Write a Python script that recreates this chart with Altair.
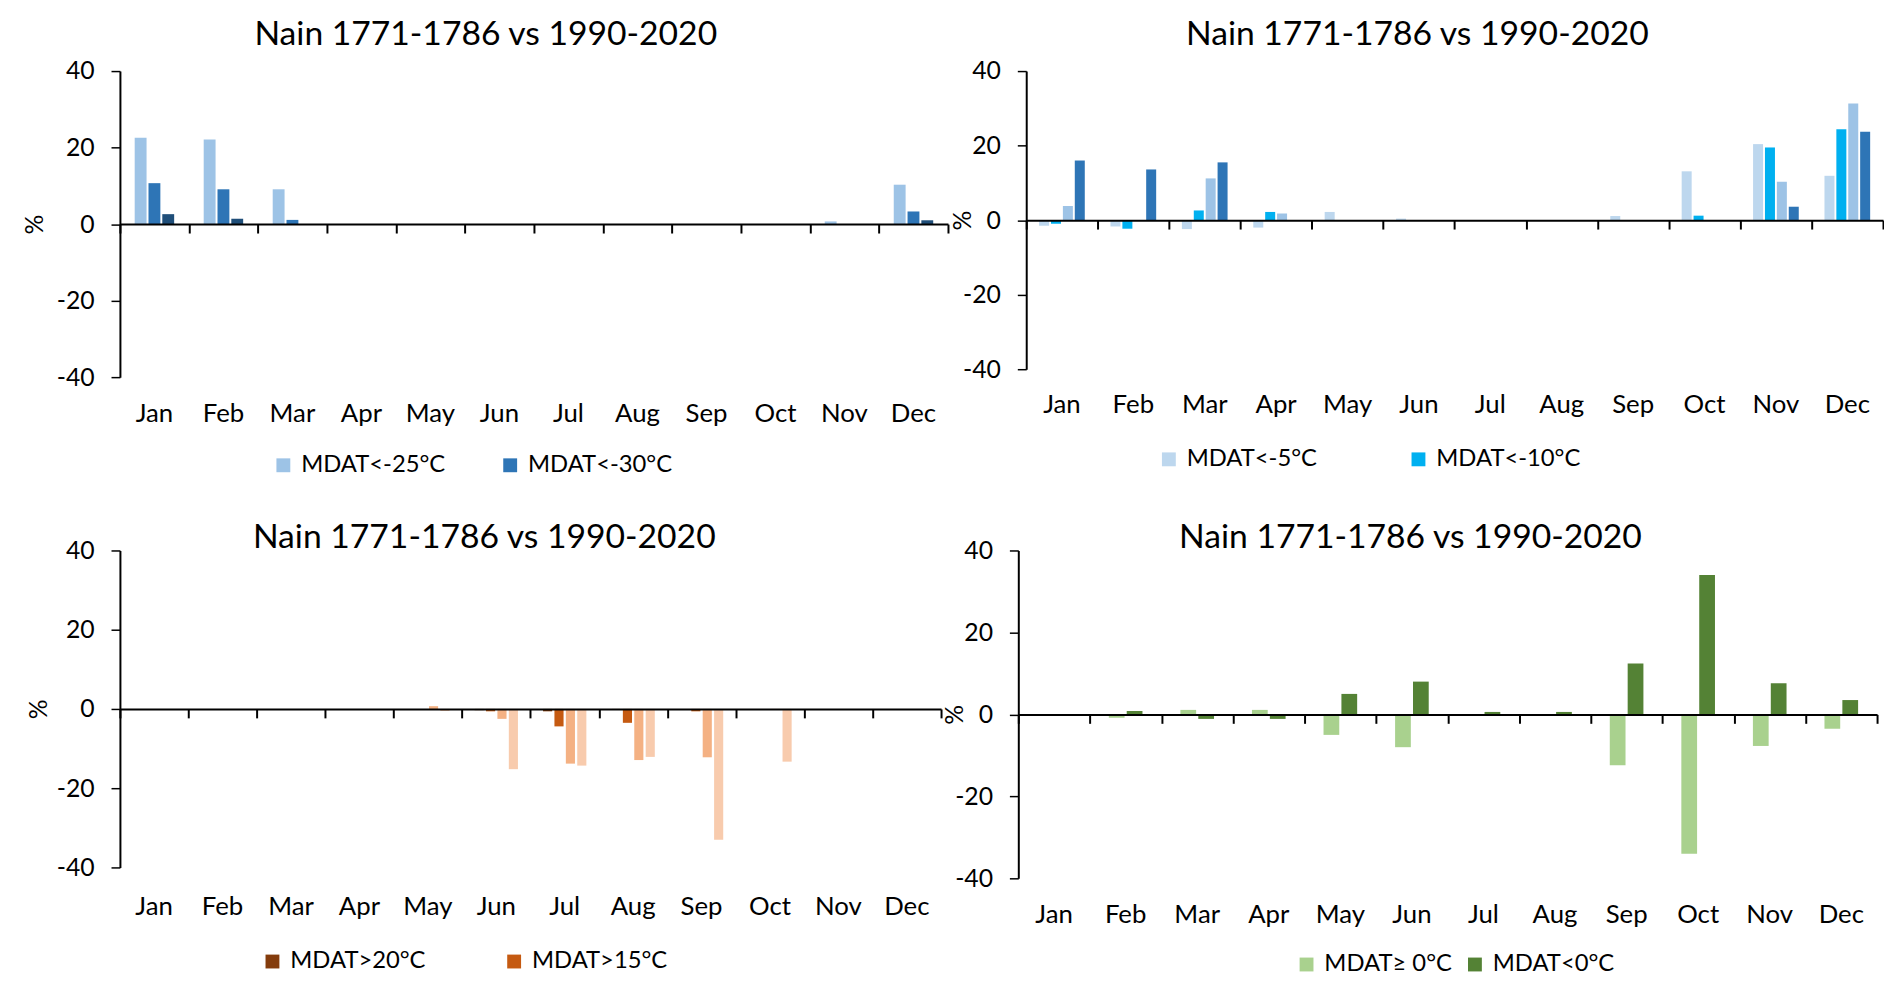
import altair as alt
import pandas as pd

FONT = "Lato"
TITLE = "Nain 1771-1786 vs 1990-2020"
MONTHS = ["Jan", "Feb", "Mar", "Apr", "May", "Jun", "Jul", "Aug", "Sep", "Oct", "Nov", "Dec"]

# Panel 1 (top left)
P1_SERIES = ["MDAT<-25°C", "MDAT<-30°C", "MDAT<-35°C"]
P1_COLORS = ["#9DC3E6", "#2E75B6", "#1F4E79"]
P1_A = [22.6, 22.1, 9.1, 0, 0, 0, 0, 0, 0, 0, 0.7, 10.3]
P1_B = [10.7, 9.1, 1.1, 0, 0, 0, 0, 0, 0, 0, 0, 3.3]
P1_C = [2.6, 1.4, 0, 0, 0, 0, 0, 0, 0, 0, 0, 1.0]

# Panel 2 (top right)
P2_SERIES = ["MDAT<-5°C", "MDAT<-10°C", "MDAT<-15°C", "MDAT<-20°C"]
P2_COLORS = ["#BDD7EE", "#00B0F0", "#9DC3E6", "#2E75B6"]
P2_A = [-1.5, -1.7, -2.4, -2.0, 2.2, 0.4, 0, 0, 1.1, 13.1, 20.4, 11.9]
P2_B = [-1.0, -2.3, 2.6, 2.2, 0, 0, 0, 0, 0, 1.2, 19.5, 24.4]
P2_C = [3.8, 0, 11.2, 1.8, 0, 0, 0, 0, 0, 0, 10.3, 31.3]
P2_D = [16.0, 13.6, 15.5, 0, 0, 0, 0, 0, 0, 0, 3.6, 23.7]

# Panel 3 (bottom left)
P3_SERIES = ["MDAT>20°C", "MDAT>15°C", "MDAT>10°C", "MDAT>5°C"]
P3_COLORS = ["#843C0C", "#C55A11", "#F4B183", "#F8CBAD"]
P3_A = [0, 0, 0, 0, 0, -0.3, -0.6, -0.2, 0, 0, 0, 0]
P3_B = [0, 0, 0, 0, 0, -0.6, -4.4, -3.5, -0.6, 0, 0, 0]
P3_C = [0, 0, 0, 0, 0.7, -2.5, -13.8, -12.9, -12.2, -0.2, 0, 0]
P3_D = [0, 0, 0, 0, -0.5, -15.2, -14.3, -12.1, -33.0, -13.3, 0, 0]

# Panel 4 (bottom right)
P4_SERIES = ["MDAT≥ 0°C", "MDAT<0°C"]
P4_COLORS = ["#A9D18E", "#548235"]
P4_A = [0, -0.8, 1.1, 1.1, -5.0, -8.0, -0.1, -0.1, -12.4, -34.0, -7.7, -3.5]
P4_B = [0, 0.8, -1.1, -1.1, 5.0, 8.0, 0.6, 0.6, 12.4, 34.0, 7.6, 3.5]


def panel(series, values, colors, w, h, gap, lx, ly, colpad, tpad, lpad, toff):
    # one band slot per bar, plus an empty slot on each side of every month
    slots = []
    for m in MONTHS:
        slots += [m + "|pre"] + [m + "|" + s for s in series] + [m + "|post"]
    rows = []
    for s, vals in zip(series, values):
        for m, v in zip(MONTHS, vals):
            rows.append({"slot": m + "|" + s, "month": m, "series": s, "value": v})
    df = pd.DataFrame(rows)
    mdf = pd.DataFrame({"month": MONTHS, "value": [0] * len(MONTHS)})

    y = alt.Y(
        "value:Q",
        scale=alt.Scale(domain=[-40, 40], nice=False),
        axis=alt.Axis(
            values=[-40, -20, 0, 20, 40], title="%", grid=False,
            labelExpr="datum.value + ''", labelFontSize=25, labelPadding=17,
            tickSize=9, tickWidth=1.5, tickColor="black", domainColor="black",
            domainWidth=2, titleFontSize=25, titleFontWeight="normal",
            titlePadding=tpad, labelColor="black", titleColor="black",
        ),
    )
    bars = alt.Chart(df).mark_bar().encode(
        x=alt.X("slot:N", sort=slots,
                scale=alt.Scale(domain=slots, paddingInner=gap, paddingOuter=gap / 2),
                axis=None),
        y=y,
        color=alt.Color(
            "series:N",
            scale=alt.Scale(domain=series, range=colors),
            legend=alt.Legend(
                values=series[:2], orient="none", legendX=lx, legendY=ly,
                direction="horizontal", title=None, symbolType="square",
                symbolSize=196, symbolStrokeWidth=0, labelFontSize=24,
                labelFont=FONT, columnPadding=colpad, labelOffset=6,
                labelColor="black",
            ),
        ),
    )
    ms = alt.Scale(domain=MONTHS, paddingInner=0, paddingOuter=0)
    zero_axis = alt.Chart(mdf).mark_bar(opacity=0).encode(
        x=alt.X("month:N", sort=MONTHS, scale=ms,
                axis=alt.Axis(orient="bottom", offset=-h / 2, labels=False, title=None,
                              domainColor="black", domainWidth=2, tickColor="black",
                              tickWidth=2, tickSize=9, tickBand="extent", zindex=1)),
        y=y,
    )
    month_labels = alt.Chart(mdf).mark_bar(opacity=0).encode(
        x=alt.X("month:N", sort=MONTHS, scale=ms,
                axis=alt.Axis(orient="bottom", domain=False, ticks=False, labelAngle=0,
                              title=None, labelPadding=lpad, labelFontSize=26,
                              labelColor="black")),
        y=y,
    )
    return (
        alt.layer(bars, zero_axis, month_labels)
        .resolve_scale(x="independent")
        .resolve_axis(x="independent")
        .properties(
            width=w, height=h,
            title=alt.TitleParams(TITLE, fontSize=34, font=FONT, fontWeight="normal",
                                  anchor="middle", frame="bounds", offset=toff,
                                  color="black"),
        )
    )


p1 = panel(P1_SERIES, [P1_A, P1_B, P1_C], P1_COLORS, 836, 309, 0.14, 153, 386, 53, 9, 24, 7)
p2 = panel(P2_SERIES, [P2_A, P2_B, P2_C, P2_D], P2_COLORS, 865, 301, 0.16, 132, 380, 90, -13, 23, 7)
p3 = panel(P3_SERIES, [P3_A, P3_B, P3_C, P3_D], P3_COLORS, 829, 320, 0.2, 142, 403, 77, 5, 27, -17)
p4 = panel(P4_SERIES, [P4_A, P4_B], P4_COLORS, 867, 331, 0.12, 279, 406, 11, -13, 24, -17)

top = alt.hconcat(p1, p2, spacing=1).resolve_scale(color="independent")
bottom = alt.hconcat(p3, p4, spacing=0).resolve_scale(color="independent")

chart = (
    alt.vconcat(top, bottom, spacing=45)
    .resolve_scale(color="independent")
    .properties(padding={"left": 14, "top": 6, "right": 0, "bottom": 2})
    .configure(font=FONT)
    .configure_view(stroke=None)
    .configure_axis(labelFont=FONT, titleFont=FONT)
)

chart.save("out.html", embed_options={"renderer": "svg", "actions": False})
